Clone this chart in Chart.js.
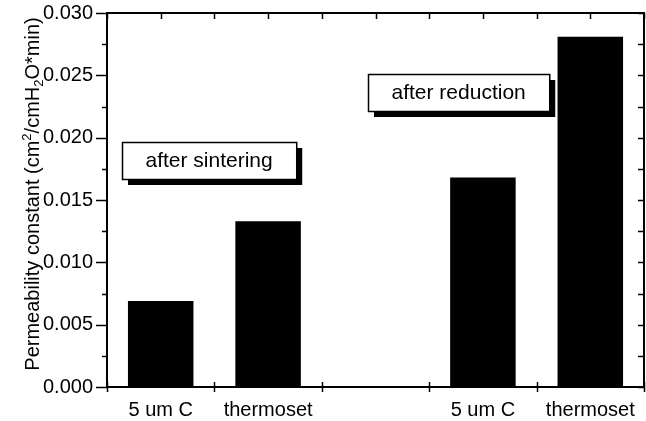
<!DOCTYPE html>
<html>
<head>
<meta charset="utf-8">
<script src="https://cdn.jsdelivr.net/npm/chart.js@4"></script>
<style>
  html, body { margin: 0; padding: 0; background: #fff; }
  #c { display: block; }
</style>
</head>
<body>
<canvas id="c" width="646" height="421"></canvas>
<script>
// ---- data ----
const categories = ["5 um C", "thermoset", "", "5 um C", "thermoset"];
const permeability = [0.0069, 0.0133, null, 0.0168, 0.0281];
const yMin = 0, yMax = 0.030, yMajorStep = 0.005, yMinorStep = 0.0025;
const noteTexts = ["after sintering", "after reduction"];
const noteCategoryPos = [0.45, 2.77];
const noteValues = [0.0182, 0.0236];
const yTitleParts = [
  { t: "Permeability constant (cm", k: "n" },
  { t: "2", k: "sup" },
  { t: "/cmH", k: "n" },
  { t: "2", k: "sub" },
  { t: "O*min)", k: "n" }
];

const FONT = "'Liberation Sans', Arial, sans-serif";

const framePlugin = {
  id: 'framePlugin',
  afterDraw(chart) {
    const ctx = chart.ctx;
    const a = chart.chartArea;
    const xs = chart.scales.x, ys = chart.scales.y;
    ctx.save();
    ctx.strokeStyle = '#000';
    ctx.fillStyle = '#000';
    // frame
    ctx.lineWidth = 2;
    ctx.strokeRect(a.left, a.top, a.right - a.left, a.bottom - a.top);
    // y ticks
    ctx.lineWidth = 1.5;
    const n = Math.round((yMax - yMin) / yMinorStep);
    for (let i = 0; i <= n; i++) {
      const v = yMin + i * yMinorStep;
      const y = Math.round(ys.getPixelForValue(v)) + 0.5;
      const major = i % 2 === 0;
      ctx.beginPath();
      ctx.moveTo(a.left - (major ? 11 : 5), y);
      ctx.lineTo(a.left, y);
      ctx.moveTo(a.right - 6, y);
      ctx.lineTo(a.right, y);
      ctx.stroke();
    }
    // x ticks
    for (let i = 0; i <= categories.length * 2; i++) {
      const x = Math.round(xs.getPixelForValue(i / 2 - 0.5)) + 0.5;
      ctx.beginPath();
      ctx.moveTo(x, a.top);
      ctx.lineTo(x, a.top + 6);
      ctx.stroke();
      if (i % 2 === 0) {
        ctx.beginPath();
        ctx.moveTo(x, a.bottom - 5);
        ctx.lineTo(x, a.bottom + 5);
        ctx.stroke();
      }
    }
    // annotation boxes
    ctx.font = '21px ' + FONT;
    ctx.textAlign = 'center';
    ctx.textBaseline = 'middle';
    noteTexts.forEach((t, i) => {
      const cx = xs.getPixelForValue(noteCategoryPos[i]);
      const cy = ys.getPixelForValue(noteValues[i]);
      const w = ctx.measureText(t).width + 47;
      const h = 37;
      const x0 = Math.round(cx - w / 2), y0 = Math.round(cy - h / 2);
      ctx.fillStyle = '#000';
      ctx.fillRect(x0 + 6, y0 + 6, w, h);
      ctx.fillStyle = '#fff';
      ctx.fillRect(x0, y0, w, h);
      ctx.lineWidth = 1.5;
      ctx.strokeStyle = '#000';
      ctx.strokeRect(x0 + 0.5, y0 + 0.5, w, h);
      ctx.fillStyle = '#000';
      ctx.fillText(t, x0 + w / 2, y0 + h / 2 + 1);
    });
    // y axis title
    const fsN = 20, fsS = 13;
    let total = 0;
    yTitleParts.forEach(p => {
      ctx.font = (p.k === 'n' ? fsN : fsS) + 'px ' + FONT;
      p.w = ctx.measureText(p.t).width;
      total += p.w;
    });
    const cyT = (a.top + a.bottom) / 2 - 6;
    ctx.translate(39, cyT);
    ctx.rotate(-Math.PI / 2);
    ctx.textAlign = 'left';
    ctx.textBaseline = 'alphabetic';
    let xp = -total / 2;
    yTitleParts.forEach(p => {
      ctx.font = (p.k === 'n' ? fsN : fsS) + 'px ' + FONT;
      const dy = p.k === 'sup' ? -8 : (p.k === 'sub' ? 4 : 0);
      ctx.fillText(p.t, xp, dy);
      xp += p.w;
    });
    ctx.restore();
  }
};

new Chart(document.getElementById('c'), {
  type: 'bar',
  data: {
    labels: categories,
    datasets: [{
      data: permeability,
      backgroundColor: '#000',
      borderWidth: 0,
      categoryPercentage: 1,
      barPercentage: 0.61
    }]
  },
  options: {
    responsive: false,
    animation: false,
    devicePixelRatio: 1,
    layout: { padding: { left: 0, right: 2, top: 13, bottom: 0 } },
    plugins: { legend: { display: false }, tooltip: { enabled: false } },
    scales: {
      x: {
        type: 'category',
        offset: true,
        grid: { display: false, drawTicks: false },
        border: { display: false },
        ticks: { color: '#000', font: { family: FONT, size: 20 }, padding: 11, maxRotation: 0, autoSkip: false },
        afterFit(s) { s.height = 34; s.paddingLeft = 0; s.paddingRight = 0; }
      },
      y: {
        min: yMin, max: yMax,
        grid: { display: false, drawTicks: false },
        border: { display: false },
        ticks: {
          stepSize: yMajorStep,
          color: '#000',
          font: { family: FONT, size: 20 },
          padding: 14,
          callback: v => Number(v).toFixed(3)
        },
        afterFit(s) { s.width = 107; s.paddingTop = 0; s.paddingBottom = 0; }
      }
    }
  },
  plugins: [framePlugin]
});
</script>
</body>
</html>
